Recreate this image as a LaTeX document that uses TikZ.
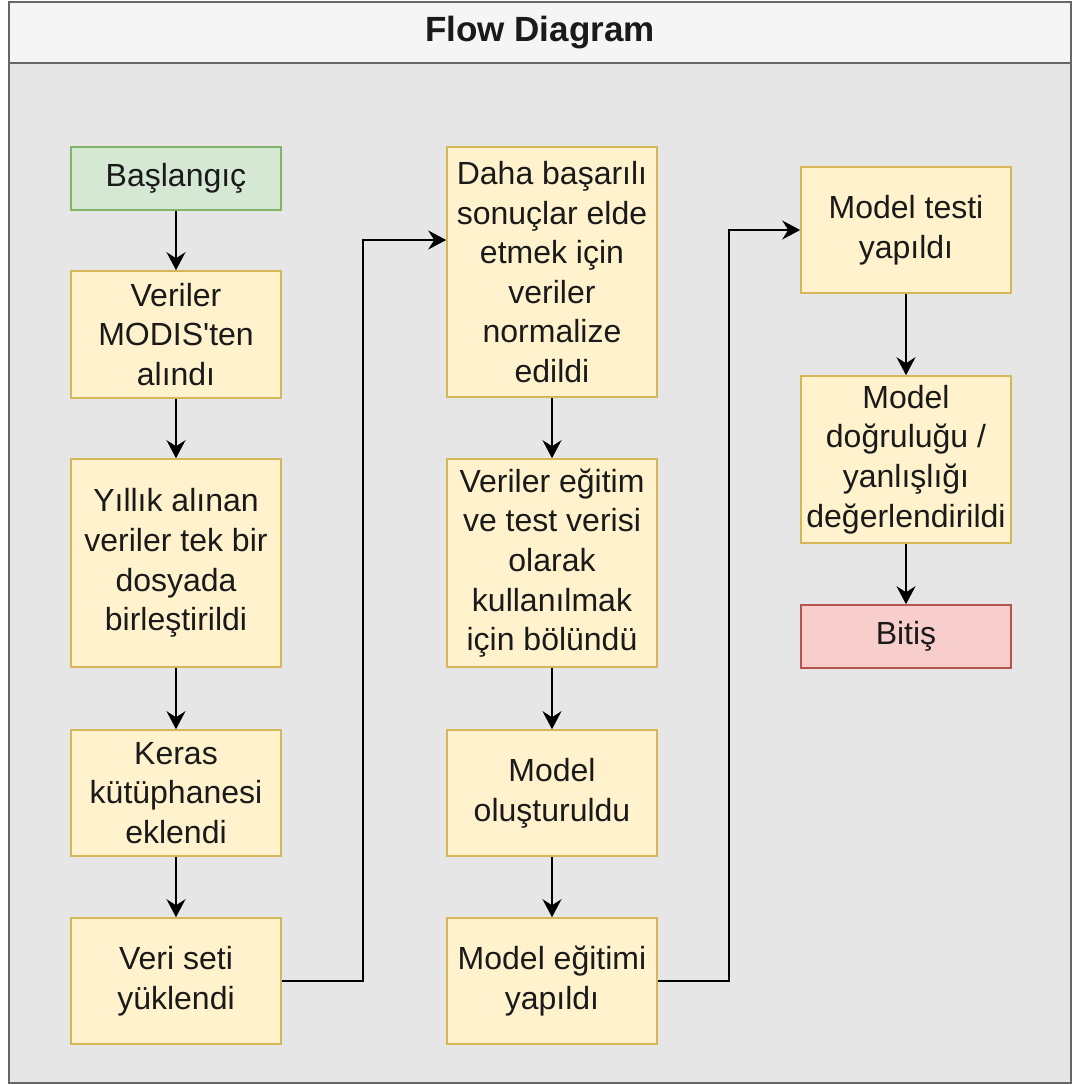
\documentclass[tikz,border=0pt]{standalone}
\usepackage{fontspec}
\setmainfont{Liberation Sans}[Ligatures=TeXOff]
\usetikzlibrary{arrows.meta}
\definecolor{gfill}{HTML}{D5E8D4}\definecolor{gdraw}{HTML}{82B366}
\definecolor{yfill}{HTML}{FFF2CC}\definecolor{ydraw}{HTML}{D6B656}
\definecolor{rfill}{HTML}{F8CECC}\definecolor{rdraw}{HTML}{B85450}
\definecolor{bodyc}{HTML}{E6E6E6}\definecolor{headc}{HTML}{F5F5F5}
\definecolor{framec}{HTML}{666666}\definecolor{txt}{HTML}{1A1A1A}
\tikzset{
  x=1pt,y=-1pt,
  box/.style={draw=ydraw,fill=yfill,line width=1.6pt,minimum width=210pt,inner sep=0pt,align=center,
    font=\fontsize{32}{39.6}\selectfont,text=txt},
  gbox/.style={box,draw=gdraw,fill=gfill},
  rbox/.style={box,draw=rdraw,fill=rfill},
  conn/.style={line width=1.8pt,-{Stealth[length=18pt,width=19pt,inset=6pt]}},
}
\begin{document}
\begin{tikzpicture}
\useasboundingbox (0,0) rectangle (1075,1085);
\draw[framec,line width=2.5pt,fill=bodyc] (9,2) rectangle (1071,1083);
\draw[framec,line width=2.5pt,fill=headc] (9,2) rectangle (1071,63);
\node[font=\fontsize{35}{40}\selectfont\bfseries,text=txt] (title) at (540,33) {Flow Diagram};
% column 1
\node[gbox,minimum height=63pt] (a1) at (176,178.5) {Başlangıç};
\node[box,minimum height=127pt] (a2) at (176,334.5) {Veriler\\MODIS'ten\\alındı};
\node[box,minimum height=208pt] (a3) at (176,563) {Yıllık alınan\\veriler tek bir\\dosyada\\birleştirildi};
\node[box,minimum height=126pt] (a4) at (176,793) {Keras\\kütüphanesi\\eklendi};
\node[box,minimum height=126pt] (a5) at (176,981) {Veri seti\\yüklendi};
% column 2
\node[box,minimum height=250pt] (b1) at (552,272) {Daha başarılı\\sonuçlar elde\\etmek için\\veriler\\normalize\\edildi};
\node[box,minimum height=208pt] (b2) at (552,563) {Veriler eğitim\\ve test verisi\\olarak\\kullanılmak\\için bölündü};
\node[box,minimum height=126pt] (b3) at (552,793) {Model\\oluşturuldu};
\node[box,minimum height=126pt] (b4) at (552,981) {Model eğitimi\\yapıldı};
% column 3
\node[box,minimum height=126pt] (c1) at (906,230) {Model testi\\yapıldı};
\node[box,minimum height=167pt] (c2) at (906,459.5) {Model\\doğruluğu /\\yanlışlığı\\değerlendirildi};
\node[rbox,minimum height=63pt] (c3) at (906,636.5) {Bitiş};
% connectors
\draw[conn] (a1) -- (a2);
\draw[conn] (a2) -- (a3);
\draw[conn] (a3) -- (a4);
\draw[conn] (a4) -- (a5);
\coordinate (k1) at (363,981);
\coordinate (k2) at (363,240);
\draw[conn] (a5.east) -- (k1) -- (k2) -- (b1.west |- k2);
\draw[conn] (b1) -- (b2);
\draw[conn] (b2) -- (b3);
\draw[conn] (b3) -- (b4);
\coordinate (m1) at (729,981);
\coordinate (m2) at (729,230);
\draw[conn] (b4.east) -- (m1) -- (m2) -- (c1.west);
\draw[conn] (c1) -- (c2);
\draw[conn] (c2) -- (c3);
\end{tikzpicture}
\end{document}
